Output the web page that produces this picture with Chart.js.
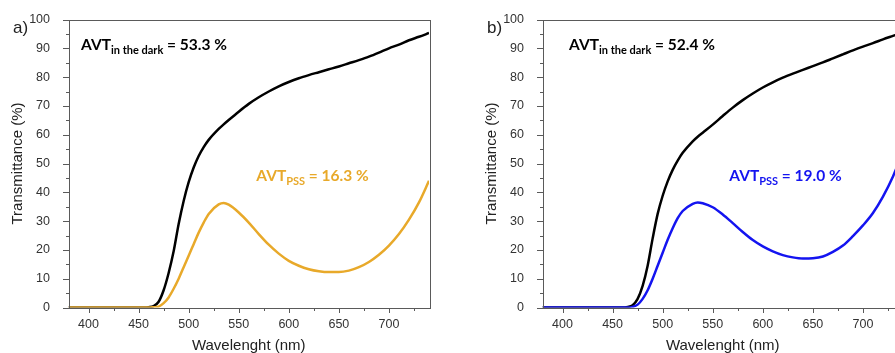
<!DOCTYPE html>
<html>
<head>
<meta charset="utf-8">
<script src="https://cdn.jsdelivr.net/npm/chart.js@4.4.0/dist/chart.umd.min.js"></script>
<style>
html, body { margin: 0; padding: 0; background: #fff; overflow: hidden; width: 895px; height: 353px; }
canvas { position: absolute; top: 0; }
</style>
</head>
<body>
<canvas id="chartA" width="447" height="353" style="left:0px"></canvas>
<canvas id="chartB" width="447" height="353" style="left:474px"></canvas>
<script>
// wavelength (nm)
var wavelength = [380, 390, 400, 410, 420, 430, 440, 450,
    455, 460, 465, 470, 475, 480, 485, 490, 495, 500, 505, 510, 515, 520,
    530, 535, 540,
    550, 560, 570, 580, 590, 600, 610, 620, 630, 640, 650, 660, 670, 680, 690, 700, 710, 720, 730, 740];

// panel a) transmittance (%)
var darkA = [0, 0, 0, 0, 0, 0, 0, 0,
    0, 0.1, 0.5, 2, 6, 12, 19.5, 29, 37, 43.5, 48.6, 52.6, 55.7, 58.2,
    62, 63.6, 65.1,
    68, 70.7, 73, 75, 76.8, 78.3, 79.6, 80.7, 81.7, 82.7, 83.7, 84.8, 85.9, 87.1, 88.5, 90, 91.3, 92.8, 94, 95.3];
var pssA = [0, 0, 0, 0, 0, 0, 0, 0,
    0, 0, 0.1, 0.3, 1.5, 3.5, 6.5, 10, 14, 18, 22, 26, 29.5, 32.5,
    35.8, 36.3, 35.7,
    33, 29.5, 25.5, 21.8, 18.7, 16.2, 14.5, 13.3, 12.6, 12.3, 12.3, 12.8, 14, 15.8, 18.3, 21.5, 25.5, 30.5, 36.5, 44];

// panel b) transmittance (%)
var darkB = [0, 0, 0, 0, 0, 0, 0, 0,
    0, 0, 0.2, 0.8, 3, 7.5, 14.5, 24, 32.5, 38.8, 43.8, 47.8, 51, 53.7,
    57.7, 59.3, 60.7,
    63.5, 66.5, 69.4, 72, 74.3, 76.4, 78.2, 79.8, 81.2, 82.5, 83.8, 85.1, 86.5, 87.9, 89.3, 90.6, 91.8, 93.1, 94.3, 95.5];
var pssB = [0, 0, 0, 0, 0, 0, 0, 0,
    0, 0, 0, 0.2, 1, 3, 6, 10, 14.5, 19, 23.5, 27.5, 31, 33.5,
    36, 36.5, 36.2,
    34.8, 32.3, 29.3, 26.2, 23.4, 21.2, 19.5, 18.2, 17.4, 17, 17.1, 17.7, 19.3, 21.5, 24.8, 28.5, 32.8, 38.5, 45.5, 54];

// tick labels
var xLabels = [400, 450, 500, 550, 600, 650, 700];
var yLabels = [0, 10, 20, 30, 40, 50, 60, 70, 80, 90, 100];

function points(values) {
    return wavelength.map(function (w, i) { return { x: w, y: values[i] }; });
}

function drawRich(ctx, x, y, parts, color) {
    ctx.fillStyle = color;
    ctx.textAlign = 'left';
    ctx.textBaseline = 'alphabetic';
    parts.forEach(function (p) {
        ctx.font = p.font;
        ctx.fillText(p.text, x, y + (p.dy || 0));
        x += ctx.measureText(p.text).width;
    });
}

var frame = {
    id: 'frame',
    afterDraw: function (chart, args, opts) {
        var ctx = chart.ctx, a = chart.chartArea;
        var xs = chart.scales.x, ys = chart.scales.y;
        ctx.save();
        ctx.strokeStyle = '#5a5a5a';
        ctx.lineWidth = 1;
        ctx.strokeRect(Math.round(a.left) + 0.5, Math.round(a.top) + 0.5,
            Math.round(a.right - a.left), Math.round(a.bottom - a.top));
        ctx.beginPath();
        xs.ticks.forEach(function (t) {
            var px = Math.round(xs.getPixelForValue(t.value)) + 0.5;
            var len = xLabels.indexOf(t.value) >= 0 ? 5 : 3;
            ctx.moveTo(px, Math.round(a.bottom));
            ctx.lineTo(px, Math.round(a.bottom) + len);
        });
        ys.ticks.forEach(function (t) {
            var py = Math.round(ys.getPixelForValue(t.value)) + 0.5;
            var len = yLabels.indexOf(t.value) >= 0 ? 6 : 3;
            ctx.moveTo(Math.round(a.left), py);
            ctx.lineTo(Math.round(a.left) - len, py);
        });
        ctx.stroke();

        // panel letter
        ctx.fillStyle = '#222';
        ctx.font = '17px "Liberation Sans", Arial, sans-serif';
        ctx.textAlign = 'left';
        ctx.fillText(opts.letter, 13, 33);

        // AVT annotations
        var big = 'bold 15.5px Lato, sans-serif';
        var small = 'bold 11px Lato, sans-serif';
        drawRich(ctx, xs.getPixelForValue(opts.darkAt[0]), ys.getPixelForValue(opts.darkAt[1]), [
            { text: 'AVT', font: big },
            { text: 'in the dark', font: small, dy: 3.5 },
            { text: ' = ' + opts.darkText, font: big }
        ], '#000');
        drawRich(ctx, xs.getPixelForValue(opts.pssAt[0]), ys.getPixelForValue(opts.pssAt[1]), [
            { text: 'AVT', font: big },
            { text: 'PSS', font: small, dy: 3.5 },
            { text: ' = ' + opts.pssText, font: big }
        ], opts.color);
        ctx.restore();
    }
};

function makeChart(id, dark, pss, color, letter, darkText, pssText, darkAt, pssAt) {
    var tickFont = { family: '"Liberation Sans", Arial, sans-serif', size: 12.5 };
    var titleFont = { family: '"Liberation Sans", Arial, sans-serif', size: 15 };
    return new Chart(document.getElementById(id).getContext('2d'), {
        type: 'line',
        data: {
            datasets: [
                { data: points(pss), borderColor: color, borderWidth: 2.5, pointRadius: 0, cubicInterpolationMode: 'monotone' },
                { data: points(dark), borderColor: '#000', borderWidth: 2.5, pointRadius: 0, cubicInterpolationMode: 'monotone' }
            ]
        },
        options: {
            responsive: false,
            animation: false,
            devicePixelRatio: 1,
            layout: { padding: { left: 0, top: 19.5, right: 18, bottom: 0 } },
            plugins: {
                legend: { display: false },
                tooltip: { enabled: false },
                frame: { letter: letter, color: color, darkText: darkText, pssText: pssText, darkAt: darkAt, pssAt: pssAt }
            },
            scales: {
                x: {
                    type: 'linear', min: 380, max: 740,
                    afterFit: function (s) { s.height = 45.5; },
                    grid: { display: false },
                    border: { display: false },
                    ticks: {
                        stepSize: 25, includeBounds: false, autoSkip: false, maxRotation: 0,
                        padding: 2, color: '#333', font: tickFont,
                        callback: function (v) { return xLabels.indexOf(v) >= 0 ? String(v) : ''; }
                    },
                    title: { display: true, text: 'Wavelenght (nm)', color: '#222', font: titleFont, padding: { top: 0, bottom: -2 } }
                },
                y: {
                    min: 0, max: 100,
                    afterFit: function (s) { s.width = 68.5; },
                    grid: { display: false },
                    border: { display: false },
                    ticks: {
                        stepSize: 5, autoSkip: false, padding: 10.5, color: '#333', font: tickFont,
                        callback: function (v) { return yLabels.indexOf(v) >= 0 ? String(v) : ''; }
                    },
                    title: { display: true, text: 'Transmittance (%)', color: '#222', font: titleFont, padding: { top: 9, bottom: 0 } }
                }
            }
        },
        plugins: [frame]
    });
}

makeChart('chartA', darkA, pssA, '#E8A92A', 'a)', '53.3 %', '16.3 %', [392.5, 89.4], [567.5, 43.9]);
makeChart('chartB', darkB, pssB, '#1414F0', 'b)', '52.4 %', '19.0 %', [406.5, 89.4], [566.5, 43.9]);
</script>
</body>
</html>
